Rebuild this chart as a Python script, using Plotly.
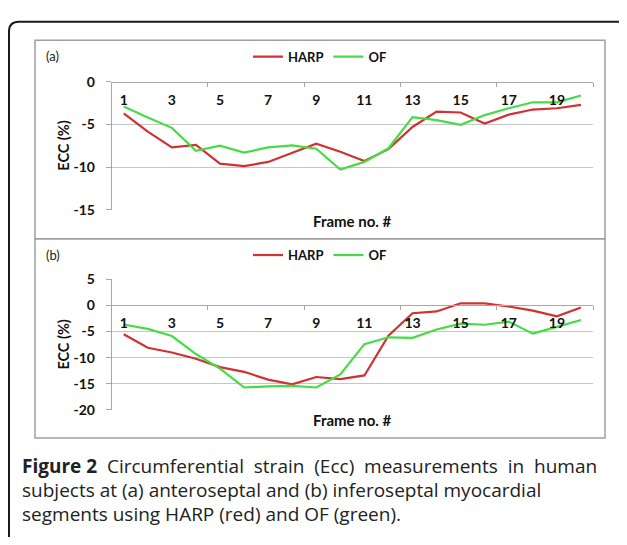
import plotly.graph_objects as go

# ---------------- data ----------------
frames = list(range(1, 21))
tick_frames = [1, 3, 5, 7, 9, 11, 13, 15, 17, 19]

harp_a = [-3.7, -5.85, -7.7, -7.4, -9.6, -9.9, -9.4, -8.3, -7.25, -8.2,
          -9.3, -7.9, -5.3, -3.5, -3.6, -4.9, -3.85, -3.25, -3.1, -2.7]
of_a = [-2.9, -4.2, -5.4, -8.1, -7.5, -8.3, -7.7, -7.45, -7.85, -10.3,
        -9.4, -7.8, -4.15, -4.5, -5.05, -3.9, -3.1, -2.4, -2.4, -1.6]

harp_b = [-5.5, -8.1, -9.0, -10.2, -11.8, -12.7, -14.2, -15.1, -13.7, -14.1,
          -13.4, -5.8, -1.5, -1.15, 0.4, 0.4, -0.2, -1.0, -2.1, -0.4]
of_b = [-3.65, -4.5, -5.85, -9.3, -12.1, -15.7, -15.5, -15.4, -15.7, -13.2,
        -7.4, -6.1, -6.2, -4.6, -3.5, -3.7, -3.1, -5.4, -4.1, -2.8]

yticks_a = [0, -5, -10, -15]
yticks_b = [5, 0, -5, -10, -15, -20]
range_a = [-15, 0]
range_b = [-20, 5]

series_names = ["HARP", "OF"]
panel_labels = ["(a)", "(b)"]
x_title = "Frame no. #"
y_title = "ECC (%)"
caption = [
    "<b>Figure\u00a02</b>\u00a0\u00a0Circumferential\u00a0\u00a0strain\u00a0\u00a0(Ecc)\u00a0\u00a0measurements\u00a0\u00a0in\u00a0\u00a0human",
    "subjects at (a) anteroseptal and (b) inferoseptal myocardial",
    "segments using HARP (red) and OF (green).",
]

# ---------------- layout helpers ----------------
# the page keeps an 8px body margin: the figure is drawn 8px in from the page edges
PAGE_W, PAGE_H, OFF = 627, 545, 8
W, H = PAGE_W - 2 * OFF, PAGE_H - 2 * OFF
def fx(p):
    return (p - OFF) / W
def fy(p):
    return 1 - (p - OFF) / H

RED = "#d03232"
GREEN = "#46dc46"
GRID = "#c6c6c6"
AXIS = "#a8a8a8"
LBL = "Lato, Carlito, sans-serif"
CAP = "Open Sans, sans-serif"

PX0, PX1 = 111.7, 593
A_TOP, A_BOT = 75, 207
B_TOP, B_BOT = 279, 414

def zero_pos(top, bot, rng):
    frac = (0 - rng[0]) / (rng[1] - rng[0])
    return fy(bot - frac * (bot - top))

fig = go.Figure()
for xa, ya, leg, h, o in [("x", "y", "legend", harp_a, of_a),
                          ("x2", "y2", "legend2", harp_b, of_b)]:
    fig.add_trace(go.Scatter(x=frames, y=h, name=series_names[0], mode="lines",
                             line=dict(color=RED, width=2.2), xaxis=xa, yaxis=ya,
                             legend=leg))
    fig.add_trace(go.Scatter(x=frames, y=o, name=series_names[1], mode="lines",
                             line=dict(color=GREEN, width=2.2), xaxis=xa, yaxis=ya,
                             legend=leg))

def xaxis_cfg(pos):
    return dict(domain=[fx(PX0), fx(PX1)], range=[0.5, 20.5], anchor="free",
                position=pos, side="bottom", tickmode="array", tickvals=tick_frames,
                ticktext=[str(t) for t in tick_frames], ticks="",
                showline=True, linecolor=AXIS, linewidth=1, showgrid=False,
                zeroline=False, ticklabelstandoff=5,
                tickfont=dict(family=LBL, size=14, color="#111", weight="bold"),
                minor=dict(tickmode="array", tickvals=[4.5, 8.5, 12.5, 16.5, 20.5],
                           ticks="outside", ticklen=4, tickcolor=AXIS))

def yaxis_cfg(top, bot, rng, ticks, anchor):
    return dict(domain=[fy(bot), fy(top)], range=rng, anchor=anchor,
                tickmode="array", tickvals=ticks, ticktext=[str(t) for t in ticks],
                ticks="outside", ticklen=5,
                tickcolor=AXIS, showline=True, linecolor=AXIS, linewidth=1,
                showgrid=True, gridcolor=GRID, gridwidth=1, zeroline=False,
                ticklabelstandoff=8,
                tickfont=dict(family=LBL, size=14, color="#111", weight="bold"))

legend_common = dict(orientation="h", xanchor="center", yanchor="middle",
                     bgcolor="rgba(0,0,0,0)", itemwidth=30,
                     font=dict(family=LBL, size=13, color="#111", weight="bold"))

fig.update_layout(
    width=W, height=H, margin=dict(l=0, r=0, t=0, b=0),
    paper_bgcolor="white", plot_bgcolor="white",
    xaxis=xaxis_cfg(zero_pos(A_TOP, A_BOT, range_a)),
    yaxis=yaxis_cfg(A_TOP, A_BOT, range_a, yticks_a, "x"),
    xaxis2=xaxis_cfg(zero_pos(B_TOP, B_BOT, range_b)),
    yaxis2=yaxis_cfg(B_TOP, B_BOT, range_b, yticks_b, "x2"),
    legend=dict(x=fx(320), y=fy(49), **legend_common),
    legend2=dict(x=fx(320), y=fy(254), **legend_common),
)

shapes = []
# outer rounded frame
r = 10
L, T, R, B = 9, 13, 628, 560
path = (f"M {fx(L)},{fy(B)} L {fx(L)},{fy(T + r)} Q {fx(L)},{fy(T)} {fx(L + r)},{fy(T)} "
        f"L {fx(R - r)},{fy(T)} Q {fx(R)},{fy(T)} {fx(R)},{fy(T + r)} L {fx(R)},{fy(B)}")
shapes.append(dict(type="path", xref="paper", yref="paper", path=path,
                   line=dict(color="#1a1a1a", width=2)))
# panel boxes
for (y0, y1) in [(32, 237), (237, 443)]:
    shapes.append(dict(type="rect", xref="paper", yref="paper",
                       x0=fx(35), x1=fx(605), y0=fy(y1), y1=fy(y0),
                       line=dict(color="#a0a0a0", width=1.5)))
fig.update_layout(shapes=shapes)

ann = []
for lab, yp in zip(panel_labels, [48, 254]):
    ann.append(dict(text=lab, x=fx(44), y=fy(yp), xref="paper", yref="paper",
                    xanchor="left", yanchor="middle", showarrow=False,
                    font=dict(family=LBL, size=13, color="#222")))
for top, bot in [(A_TOP, A_BOT), (B_TOP, B_BOT)]:
    ann.append(dict(text=y_title, x=fx(64), y=fy((top + bot) / 2), xref="paper",
                    yref="paper", xanchor="center", yanchor="middle", textangle=-90,
                    showarrow=False,
                    font=dict(family=LBL, size=14.5, color="#111", weight="bold")))
for yp in [219, 424]:
    ann.append(dict(text=x_title, x=fx((PX0 + PX1) / 2), y=fy(yp), xref="paper",
                    yref="paper", xanchor="center", yanchor="middle", showarrow=False,
                    font=dict(family=LBL, size=15, color="#111", weight="bold")))
for line, yp in zip(caption, [472, 497, 522]):
    ann.append(dict(text=line, x=fx(20), y=fy(yp), xref="paper", yref="paper",
                    xanchor="left", yanchor="middle", showarrow=False,
                    font=dict(family=CAP, size=19, color="#222")))
fig.update_layout(annotations=ann)

fig.write_html("out.html")
